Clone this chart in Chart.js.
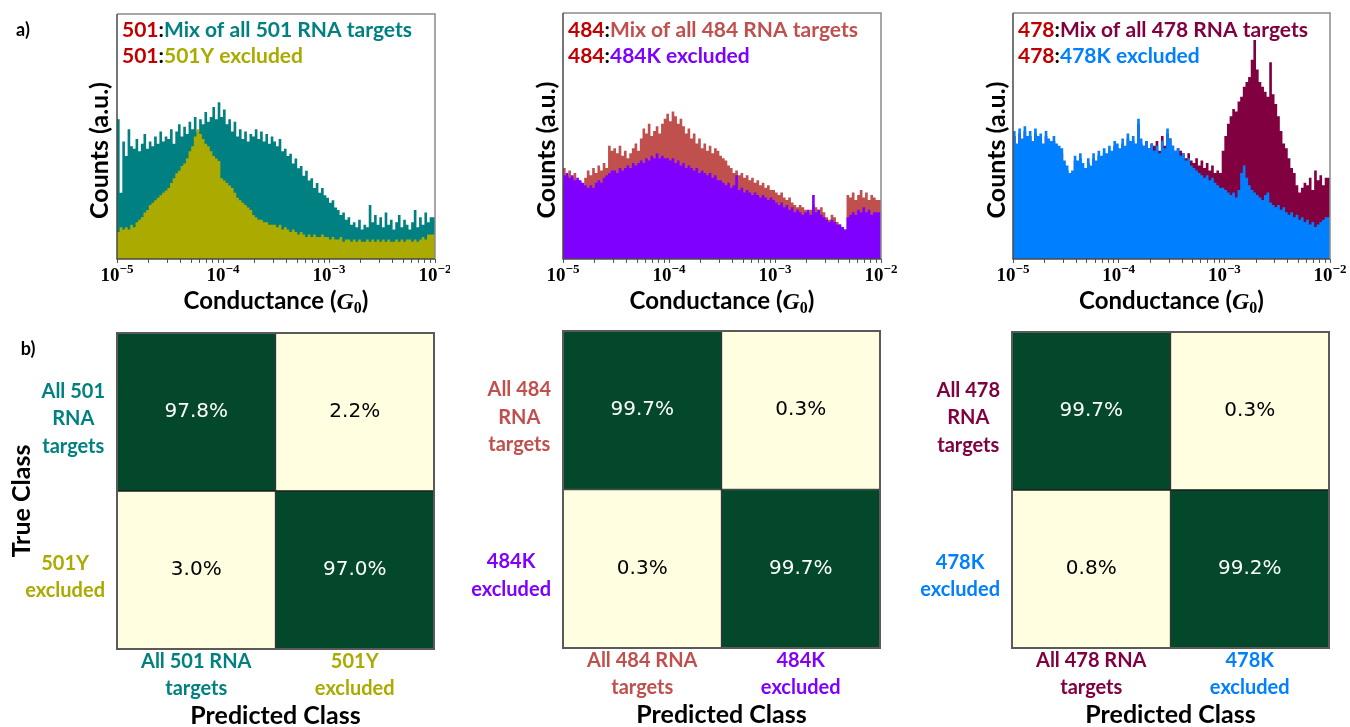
<!DOCTYPE html>
<html>
<head>
<meta charset="utf-8">
<title>Conductance histograms and confusion matrices</title>
<script src="https://cdn.jsdelivr.net/npm/chart.js@4.4.1/dist/chart.umd.min.js"></script>
<style>
  html, body { margin: 0; padding: 0; background: #ffffff; }
  #fig { position: relative; width: 1350px; height: 727px; overflow: hidden; background: #ffffff; }
  #fig canvas { position: absolute; }
</style>
</head>
<body>
<div id="fig">
  <canvas id="h501" width="450" height="320" style="left:0;top:0"></canvas>
  <canvas id="h484" width="450" height="320" style="left:450px;top:0"></canvas>
  <canvas id="h478" width="450" height="320" style="left:900px;top:0"></canvas>
  <canvas id="m501" width="450" height="407" style="left:0;top:320px"></canvas>
  <canvas id="m484" width="450" height="407" style="left:450px;top:320px"></canvas>
  <canvas id="m478" width="450" height="407" style="left:900px;top:320px"></canvas>
</div>
<script>
// ---- histogram range (log10 of conductance in G0) ----
const logMin = -5;
const logMax = -2;
const decades = [-5, -4, -3, -2];

// ---- histogram counts (a.u.), 120 equal log-width bins from 1e-5 to 1e-2 ----
const counts501Mix = [
  50, 57, 27, 48, 42, 53, 46, 45, 49, 44, 47, 51, 45, 48, 46, 50, 47, 52, 48, 50,
  49, 53, 47, 52, 55, 50, 54, 51, 56, 53, 58, 52, 57, 55, 60, 56, 58, 62, 57, 64,
  58, 61, 55, 57, 52, 56, 50, 53, 49, 52, 48, 51, 50, 53, 49, 52, 48, 51, 47, 50,
  48, 46, 49, 44, 45, 42, 43, 39, 41, 37, 38, 34, 36, 32, 33, 29, 31, 27, 29, 26,
  25, 23, 24, 21, 20, 18, 19, 16, 17, 14, 15, 13, 16, 12, 14, 13, 22, 15, 18, 14,
  17, 13, 19, 14, 16, 12, 15, 18, 13, 16, 14, 12, 15, 20, 13, 17, 14, 19, 15, 17
];
const counts501Y = [
  12, 11, 13, 12, 13, 12, 14, 13, 15, 16, 17, 19, 20, 22, 23, 24, 25, 26, 27, 28,
  29, 31, 33, 35, 36, 38, 39, 41, 44, 46, 50, 53, 51, 49, 47, 46, 44, 42, 41, 40,
  33, 32, 31, 30, 29, 27, 25, 24, 23, 22, 21, 20, 18, 17, 16, 16, 15, 15, 14, 14,
  14, 13, 14, 12, 13, 12, 11, 12, 11, 10, 11, 10, 9, 10, 9, 10, 9, 9, 10, 9,
  9, 8, 9, 8, 8, 9, 7, 8, 8, 7, 8, 7, 8, 7, 7, 8, 7, 8, 7, 8,
  7, 8, 7, 8, 7, 7, 8, 7, 8, 7, 8, 8, 7, 8, 7, 8, 9, 8, 10, 10
];
const counts484Mix = [
  35, 37, 34, 36, 33, 35, 32, 31, 30, 33, 36, 34, 37, 35, 38, 36, 39, 37, 46, 44,
  45, 43, 46, 42, 44, 41, 43, 45, 47, 44, 49, 53, 51, 55, 50, 52, 54, 51, 55, 57,
  59, 56, 60, 58, 55, 57, 54, 51, 53, 49, 51, 47, 49, 45, 47, 44, 46, 43, 45, 44,
  42, 41, 40, 38, 37, 35, 36, 34, 35, 33, 34, 32, 33, 31, 32, 30, 31, 29, 30, 28,
  28, 27, 26, 27, 25, 24, 25, 23, 22, 21, 22, 21, 20, 19, 20, 22, 21, 20, 21, 19,
  17, 16, 18, 17, 15, 14, 13, 12, 26, 25, 27, 24, 26, 28, 25, 27, 24, 26, 25, 24
];
const counts484K = [
  35, 34, 35, 33, 34, 32, 33, 32, 31, 30, 29, 30, 29, 31, 32, 31, 33, 34, 35, 36,
  36, 35, 37, 36, 37, 38, 37, 39, 38, 39, 40, 39, 41, 40, 42, 41, 43, 41, 42, 41,
  41, 40, 41, 39, 40, 38, 39, 37, 38, 37, 36, 37, 35, 36, 35, 34, 35, 33, 34, 32,
  32, 31, 30, 31, 29, 30, 34, 28, 29, 27, 28, 27, 26, 27, 26, 25, 26, 25, 24, 25,
  24, 23, 22, 23, 21, 22, 20, 21, 19, 20, 19, 18, 19, 20, 18, 26, 19, 20, 18, 17,
  16, 15, 16, 15, 14, 14, 13, 12, 17, 18, 19, 18, 20, 19, 21, 19, 20, 18, 19, 19
];
const counts478Mix = [
  57, 50, 45, 51, 47, 52, 48, 50, 46, 51, 48, 49, 45, 50, 47, 46, 48, 45, 44, 43,
  38, 36, 33, 34, 40, 38, 41, 37, 35, 39, 36, 41, 38, 42, 40, 43, 41, 44, 42, 46,
  45, 43, 47, 44, 49, 46, 48, 45, 55, 47, 46, 48, 45, 47, 46, 48, 44, 50, 46, 51,
  49, 46, 44, 45, 44, 43, 41, 43, 40, 39, 41, 38, 40, 37, 39, 36, 38, 35, 36, 35,
  44, 50, 55, 58, 61, 60, 64, 66, 70, 72, 74, 81, 89, 77, 72, 70, 68, 66, 80, 67,
  63, 58, 52, 47, 45, 41, 37, 35, 30, 27, 29, 31, 30, 33, 28, 36, 32, 34, 30, 33
];
const counts478K = [
  59, 52, 47, 53, 49, 54, 50, 52, 48, 53, 50, 51, 47, 52, 49, 48, 50, 47, 46, 45,
  40, 38, 35, 36, 42, 40, 43, 39, 37, 41, 38, 43, 40, 44, 42, 45, 43, 46, 44, 48,
  47, 45, 49, 46, 51, 48, 50, 47, 57, 49, 46, 48, 45, 47, 44, 46, 43, 48, 45, 53,
  49, 46, 44, 45, 42, 43, 40, 41, 38, 37, 36, 35, 34, 33, 34, 32, 33, 31, 30, 29,
  29, 28, 27, 26, 27, 25, 28, 35, 38, 33, 30, 28, 27, 26, 25, 24, 26, 27, 23, 22,
  21, 22, 20, 21, 19, 18, 19, 17, 18, 16, 17, 15, 16, 14, 15, 13, 14, 15, 16, 17
];

// ---- confusion matrices: rows = true class, columns = predicted class (%) ----
const rowLabels501 = [['All 501', 'RNA', 'targets'], ['501Y', 'excluded']];
const colLabels501 = [['All 501 RNA', 'targets'], ['501Y', 'excluded']];
const cm501 = [[97.8, 2.2], [3.0, 97.0]];

const rowLabels484 = [['All 484', 'RNA', 'targets'], ['484K', 'excluded']];
const colLabels484 = [['All 484 RNA', 'targets'], ['484K', 'excluded']];
const cm484 = [[99.7, 0.3], [0.3, 99.7]];

const rowLabels478 = [['All 478', 'RNA', 'targets'], ['478K', 'excluded']];
const colLabels478 = [['All 478 RNA', 'targets'], ['478K', 'excluded']];
const cm478 = [[99.7, 0.3], [0.8, 99.2]];

// ---- styling ----
const LABEL_FONT = 'Lato, "Open Sans", "Liberation Sans", sans-serif';
const MATH_FONT = '"Liberation Serif", "DejaVu Serif", serif';
const CELL_FONT = '"DejaVu Sans", Verdana, sans-serif';
const TAG_RED = '#C00000';
const CELL_LOW = '#FFFEE1';
const CELL_HIGH = '#03482A';

Chart.defaults.font.family = LABEL_FONT;

// two-level colour map: majority cells dark, minority cells cream
function cellColor(pct) {
  return pct >= 50 ? CELL_HIGH : CELL_LOW;
}

// draw a run of differently styled text pieces on one baseline
function drawRuns(ctx, runs, x, y, align) {
  let total = 0;
  runs.forEach(r => { ctx.font = r.font; r.w = ctx.measureText(r.text).width; total += r.w; });
  let cx = align === 'center' ? x - total / 2 : (align === 'right' ? x - total : x);
  ctx.textAlign = 'left';
  runs.forEach(r => {
    ctx.font = r.font;
    ctx.fillStyle = r.color;
    ctx.textBaseline = 'alphabetic';
    ctx.fillText(r.text, cx, y + (r.dy || 0));
    cx += r.w;
  });
}

function histPoints(counts) {
  const n = counts.length;
  const pts = [];
  for (let i = 0; i <= n; i++) {
    const lg = logMin + (logMax - logMin) * i / n;
    pts.push({ x: Math.pow(10, lg), y: counts[Math.min(i, n - 1)] });
  }
  return pts;
}

function tickValues() {
  const out = [];
  for (let e = logMin; e < logMax; e++) {
    for (let k = 1; k <= 9; k++) out.push({ value: k * Math.pow(10, e), major: k === 1 });
  }
  out.push({ value: Math.pow(10, logMax), major: true });
  return out;
}

const histPanels = [
  { id: 'h501', tag: '501', mix: counts501Mix, excl: counts501Y,
    mixText: 'Mix of all 501 RNA targets', exclText: '501Y excluded',
    mixColor: '#008080', exclColor: '#AAAA00',
    pad: { left: 117, right: 15, top: 14 }, yTitleX: 100, panelLabel: 'a)' },
  { id: 'h484', tag: '484', mix: counts484Mix, excl: counts484K,
    mixText: 'Mix of all 484 RNA targets', exclText: '484K excluded',
    mixColor: '#C0504D', exclColor: '#8000FF',
    pad: { left: 113, right: 19, top: 13 }, yTitleX: 97 },
  { id: 'h478', tag: '478', mix: counts478Mix, excl: counts478K,
    mixText: 'Mix of all 478 RNA targets', exclText: '478K excluded',
    mixColor: '#800040', exclColor: '#0080FF',
    pad: { left: 113, right: 20, top: 13 }, yTitleX: 97 }
];

const histDecor = {
  id: 'histDecor',
  afterDraw(chart) {
    const p = chart.config.options.plugins.histDecor;
    const ctx = chart.ctx;
    const a = chart.chartArea;
    const xs = chart.scales.x;
    ctx.save();
    // plot frame
    ctx.lineWidth = 1.5;
    ctx.strokeStyle = '#8a8a8a';
    ctx.beginPath();
    ctx.moveTo(a.left, a.top); ctx.lineTo(a.right, a.top); ctx.lineTo(a.right, a.bottom);
    ctx.stroke();
    ctx.strokeStyle = '#4a4a4a';
    ctx.beginPath();
    ctx.moveTo(a.left, a.top); ctx.lineTo(a.left, a.bottom); ctx.lineTo(a.right, a.bottom);
    ctx.stroke();

    // legend text
    const lf = 'bold 21px ' + LABEL_FONT;
    drawRuns(ctx, [
      { text: p.tag, color: TAG_RED, font: lf },
      { text: ':', color: '#000', font: lf },
      { text: p.mixText, color: p.mixColor, font: lf }
    ], a.left + 5, 37, 'left');
    drawRuns(ctx, [
      { text: p.tag, color: TAG_RED, font: lf },
      { text: ':', color: '#000', font: lf },
      { text: p.exclText, color: p.exclColor, font: lf }
    ], a.left + 5, 63, 'left');

    // decade labels 10^n
    decades.forEach(e => {
      const x = xs.getPixelForValue(Math.pow(10, e));
      drawRuns(ctx, [
        { text: '10', color: '#000', font: 'bold 19px ' + MATH_FONT },
        { text: '\u2212' + Math.abs(e), color: '#000', font: 'bold 13px ' + MATH_FONT, dy: -8 }
      ], x, 281, 'center');
    });

    // x title
    const tf = 'bold 24px ' + LABEL_FONT;
    drawRuns(ctx, [
      { text: 'Conductance (', color: '#000', font: tf },
      { text: 'G', color: '#000', font: 'bold italic 24px ' + MATH_FONT },
      { text: '0', color: '#000', font: 'bold 16px ' + MATH_FONT, dy: 4 },
      { text: ')', color: '#000', font: tf }
    ], (a.left + a.right) / 2, 309, 'center');

    // y title
    ctx.translate(p.yTitleX, (a.top + a.bottom) / 2 + 14);
    ctx.rotate(-Math.PI / 2);
    ctx.font = 'bold 25px ' + LABEL_FONT;
    ctx.fillStyle = '#000';
    ctx.textAlign = 'center';
    ctx.textBaseline = 'middle';
    ctx.fillText('Counts (a.u.)', 0, 0);
    ctx.restore();

    if (p.panelLabel) {
      ctx.save();
      ctx.font = 'bold 18px ' + LABEL_FONT;
      ctx.fillStyle = '#000';
      ctx.textAlign = 'center';
      ctx.textBaseline = 'middle';
      ctx.fillText(p.panelLabel, 23, 30);
      ctx.restore();
    }
  }
};

histPanels.forEach(p => {
  new Chart(document.getElementById(p.id), {
    type: 'line',
    data: {
      datasets: [
        { data: histPoints(p.excl), order: 0, stepped: 'after', fill: 'origin',
          backgroundColor: p.exclColor, borderColor: p.exclColor, borderWidth: 0, pointRadius: 0 },
        { data: histPoints(p.mix), order: 1, stepped: 'after', fill: 'origin',
          backgroundColor: p.mixColor, borderColor: p.mixColor, borderWidth: 0, pointRadius: 0 }
      ]
    },
    options: {
      responsive: false,
      animation: false,
      events: [],
      layout: { padding: { left: p.pad.left, right: p.pad.right, top: p.pad.top, bottom: 0 } },
      plugins: {
        legend: { display: false },
        tooltip: { enabled: false },
        histDecor: { tag: p.tag, mixText: p.mixText, exclText: p.exclText,
                     mixColor: p.mixColor, exclColor: p.exclColor,
                     yTitleX: p.yTitleX, panelLabel: p.panelLabel }
      },
      scales: {
        x: {
          type: 'logarithmic',
          min: Math.pow(10, logMin),
          max: Math.pow(10, logMax),
          afterBuildTicks: s => { s.ticks = tickValues(); },
          afterFit: s => { s.height = 320 - 259; },
          ticks: { display: false },
          border: { display: false },
          grid: { display: true, drawOnChartArea: false, drawTicks: true,
                  tickLength: 4, color: '#555', lineWidth: 1 }
        },
        y: { display: false, min: 0, max: 100 }
      }
    },
    plugins: [histDecor]
  });
});

// ---- confusion matrices ----
const matrixPanels = [
  { id: 'm501', cm: cm501, rows: rowLabels501, cols: colLabels501,
    rowColors: ['#008080', '#AAAA00'], pad: { left: 117, right: 16, top: 13, bottom: 78 },
    panelLabel: 'b)', yTitle: 'True Class' },
  { id: 'm484', cm: cm484, rows: rowLabels484, cols: colLabels484,
    rowColors: ['#C0504D', '#8000FF'], pad: { left: 113, right: 20, top: 11, bottom: 79 } },
  { id: 'm478', cm: cm478, rows: rowLabels478, cols: colLabels478,
    rowColors: ['#800040', '#0080FF'], pad: { left: 112, right: 21, top: 12, bottom: 79 } }
];

const matrixDecor = {
  id: 'matrixDecor',
  afterDraw(chart) {
    const p = chart.config.options.plugins.matrixDecor;
    const ctx = chart.ctx;
    const a = chart.chartArea;
    const xs = chart.scales.x;
    const ys = chart.scales.y;
    ctx.save();

    // cell values
    ctx.font = '20px ' + CELL_FONT;
    ctx.textAlign = 'center';
    ctx.textBaseline = 'middle';
    chart.data.datasets.forEach((ds, di) => {
      const r = ds.trueRow;
      chart.getDatasetMeta(di).data.forEach((bar, c) => {
        const v = p.cm[r][c];
        ctx.fillStyle = v >= 50 ? '#ffffff' : '#000000';
        ctx.fillText(v.toFixed(1) + '%', bar.x, (bar.y + bar.base) / 2);
      });
    });

    // outer frame
    ctx.lineWidth = 2;
    ctx.strokeStyle = '#5a5a5a';
    ctx.strokeRect(a.left, a.top, a.right - a.left, a.bottom - a.top);

    const lf = 'bold 20px ' + LABEL_FONT;
    ctx.font = lf;
    // true-class labels (left of each row)
    p.rows.forEach((lines, r) => {
      const cy = ys.getPixelForValue(r === 0 ? 1.5 : 0.5) + 7;
      const w = Math.max(...lines.map(t => ctx.measureText(t).width));
      const cx = a.left - 12 - w / 2;
      const lh = 27.5;
      ctx.fillStyle = p.rowColors[r];
      lines.forEach((t, i) => {
        ctx.fillText(t, cx, cy + (i - (lines.length - 1) / 2) * lh);
      });
    });
    // predicted-class labels (below each column)
    p.cols.forEach((lines, c) => {
      const cx = xs.getPixelForValue(c);
      ctx.fillStyle = p.rowColors[c];
      lines.forEach((t, i) => ctx.fillText(t, cx, a.bottom + 13 + i * 27));
    });

    // axis titles
    ctx.font = 'bold 25px ' + LABEL_FONT;
    ctx.fillStyle = '#000';
    ctx.fillText('Predicted Class', (a.left + a.right) / 2, a.bottom + 67);
    if (p.yTitle) {
      ctx.save();
      ctx.translate(22, (a.top + a.bottom) / 2 + 10);
      ctx.rotate(-Math.PI / 2);
      ctx.fillText(p.yTitle, 0, 0);
      ctx.restore();
    }
    if (p.panelLabel) {
      ctx.font = 'bold 18px ' + LABEL_FONT;
      ctx.fillText(p.panelLabel, 28, 29);
    }
    ctx.restore();
  }
};

matrixPanels.forEach(p => {
  const colNames = p.cols.map(l => l.join(' '));
  // stacked unit cells: first dataset is the lower row (second true class)
  const datasets = [1, 0].map(r => ({
    trueRow: r,
    data: p.cm[r].map(() => 1),
    backgroundColor: p.cm[r].map(cellColor),
    borderColor: '#1e1e1e',
    borderWidth: 1,
    borderSkipped: false,
    barPercentage: 1,
    categoryPercentage: 1
  }));
  new Chart(document.getElementById(p.id), {
    type: 'bar',
    data: { labels: colNames, datasets },
    options: {
      responsive: false,
      animation: false,
      events: [],
      layout: { padding: p.pad },
      plugins: { legend: { display: false }, tooltip: { enabled: false }, matrixDecor: p },
      scales: {
        x: { display: false, stacked: true },
        y: { display: false, stacked: true, min: 0, max: 2 }
      }
    },
    plugins: [matrixDecor]
  });
});
</script>
</body>
</html>
